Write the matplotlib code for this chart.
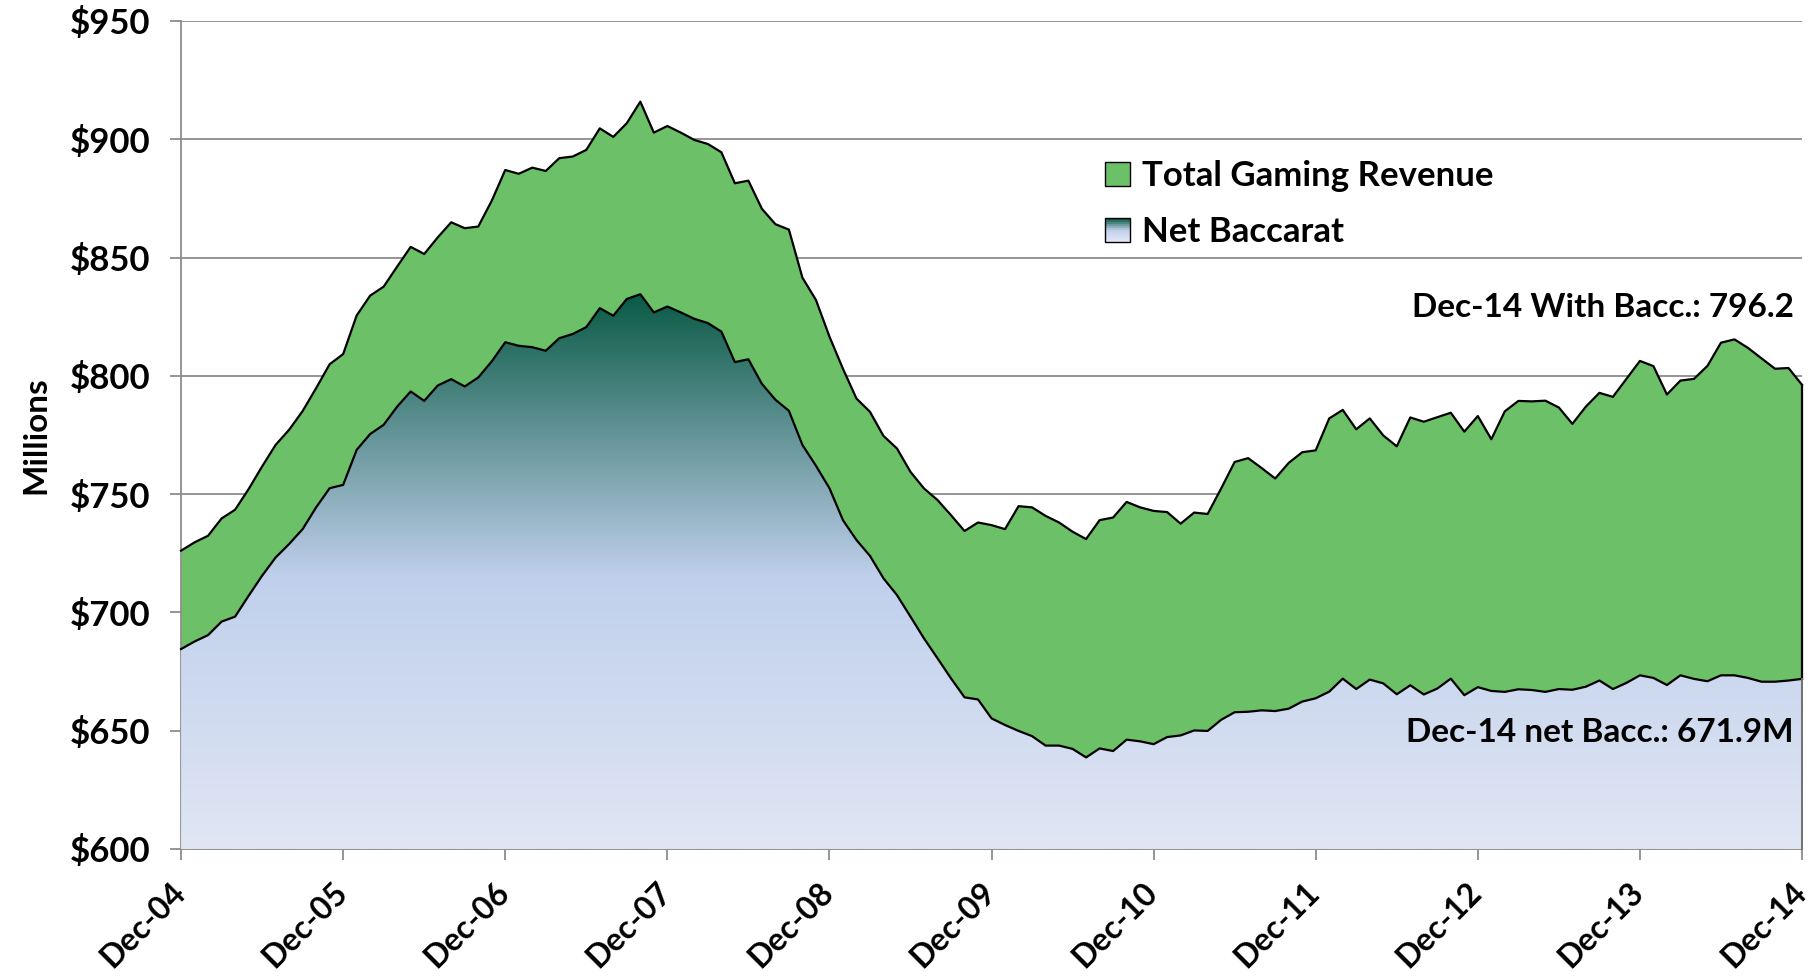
import numpy as np
import matplotlib
matplotlib.use('Agg')
import matplotlib.pyplot as plt
from matplotlib.colors import LinearSegmentedColormap
from matplotlib.patches import Rectangle, Patch
from matplotlib.legend_handler import HandlerBase

plt.rcParams['font.family'] = ['Lato', 'DejaVu Sans']
plt.rcParams['font.weight'] = 'bold'

# monthly data, Dec-04 .. Dec-14 ($ millions)
tick_labels = ['Dec-04', 'Dec-05', 'Dec-06', 'Dec-07', 'Dec-08', 'Dec-09',
               'Dec-10', 'Dec-11', 'Dec-12', 'Dec-13', 'Dec-14']
y_ticks = [600, 650, 700, 750, 800, 850, 900, 950]

total_rev = [726.1, 729.6, 732.4, 739.7, 743.4, 752.1, 761.7, 770.8, 777.2, 785.1,
             794.8, 804.9, 809.2, 825.5, 833.9, 837.7, 846.2, 854.5, 851.5, 858.5,
             864.9, 862.4, 863.1, 874.0, 887.0, 885.4, 888.0, 886.6, 892.0, 892.7,
             895.5, 904.6, 901.0, 906.8, 915.9, 902.8, 905.6, 902.8, 899.7, 898.0,
             894.5, 881.4, 882.5, 870.6, 864.1, 861.8, 841.5, 832.1, 816.6, 803.0,
             790.4, 784.8, 774.6, 769.3, 759.4, 752.4, 747.5, 741.1, 734.4, 738.0,
             736.9, 735.2, 744.9, 744.4, 740.8, 738.0, 734.1, 731.0, 739.0, 740.1,
             746.7, 744.4, 742.9, 742.4, 737.5, 742.2, 741.6, 752.4, 763.6, 765.2,
             761.0, 756.6, 763.2, 767.7, 768.5, 782.0, 785.6, 777.4, 782.0, 774.8,
             770.2, 782.4, 780.6, 782.5, 784.4, 776.4, 783.0, 773.2, 785.0, 789.4,
             789.2, 789.5, 786.6, 779.7, 787.0, 792.8, 791.1, 798.7, 806.3, 804.1,
             792.1, 798.0, 798.7, 804.2, 814.0, 815.4, 811.8, 807.4, 803.0, 803.3,
             796.2]

net_bacc = [684.5, 687.7, 690.4, 696.1, 698.2, 707.0, 715.5, 723.2, 728.9, 735.2,
            744.4, 752.5, 753.9, 768.7, 775.4, 779.3, 787.0, 793.4, 789.4, 795.9,
            798.6, 795.5, 799.3, 806.1, 814.2, 812.7, 812.1, 810.6, 815.9, 817.7,
            820.6, 828.6, 825.4, 832.5, 834.5, 826.8, 829.3, 826.8, 824.1, 822.3,
            818.7, 805.8, 807.0, 796.6, 789.9, 785.2, 770.8, 762.0, 752.5, 739.0,
            730.6, 723.9, 714.4, 707.3, 698.2, 689.0, 680.6, 672.1, 664.1, 663.2,
            655.2, 652.4, 649.9, 647.7, 643.7, 643.7, 642.3, 638.7, 642.5, 641.4,
            646.2, 645.5, 644.3, 647.3, 648.0, 650.1, 649.9, 654.6, 657.8, 658.0,
            658.6, 658.3, 659.3, 662.3, 663.7, 666.5, 672.0, 667.6, 671.6, 670.0,
            665.4, 669.2, 665.3, 667.8, 672.0, 665.0, 668.4, 666.8, 666.4, 667.5,
            667.2, 666.4, 667.6, 667.3, 668.6, 671.2, 667.6, 670.2, 673.4, 672.3,
            669.3, 673.4, 671.9, 670.9, 673.4, 673.4, 672.3, 670.7, 670.7, 671.2,
            671.9]

months = np.arange(len(total_rev))
tick_pos = months[::12]

green = '#6cc068'
grid_c = '#8c8c8c'
bacc_cmap = LinearSegmentedColormap.from_list(
    'bacc', [(0.0, '#e0e6f4'), (0.49, '#c0d0ec'), (1.0, '#0a5a45')])


class GradHandler(HandlerBase):
    def create_artists(self, legend, orig_handle, xdescent, ydescent,
                       width, height, fontsize, trans):
        arts = []
        n = 12
        for i in range(n):
            r = Rectangle((-xdescent, -ydescent + height * i / n), width, height / n,
                          facecolor=bacc_cmap(i / (n - 1)), edgecolor='none',
                          transform=trans)
            arts.append(r)
        arts.append(Rectangle((-xdescent, -ydescent), width, height, facecolor='none',
                              edgecolor='black', lw=1.0, transform=trans))
        return arts


fig = plt.figure(figsize=(18.16, 9.8), dpi=100)
ax = fig.add_axes([0.0997, 0.1337, 0.8926, 0.8449])

# total gaming revenue area
ax.fill_between(months, 600, total_rev, color=green, lw=0, zorder=2)
ax.plot(months, total_rev, color='black', lw=1.6, zorder=5, clip_on=False)

# net baccarat area with vertical gradient
poly = ax.fill_between(months, 600, net_bacc, facecolor='none', lw=0, zorder=3)
grad = np.linspace(0, 1, 256).reshape(-1, 1)
img = ax.imshow(grad, cmap=bacc_cmap, origin='lower', aspect='auto',
                extent=[0, 120, 600, max(net_bacc)], zorder=3, interpolation='bilinear')
img.set_clip_path(poly.get_paths()[0], transform=ax.transData)
ax.plot(months, net_bacc, color='black', lw=1.6, zorder=5, clip_on=False)

# right edge of the areas
ax.plot([months[-1], months[-1]], [net_bacc[-1], total_rev[-1]], color='black',
        lw=1.6, zorder=5, clip_on=False)
ax.plot([months[-1], months[-1]], [600, net_bacc[-1]], color='#707070',
        lw=1.4, zorder=5, clip_on=False)

ax.set_xlim(0, 120)
ax.set_ylim(600, 950)
ax.set_yticks(y_ticks)
ax.set_yticklabels(['$%d' % v for v in y_ticks], fontsize=25)
ax.set_xticks(tick_pos)
ax.set_xticklabels([])
for xp, lab in zip(tick_pos, tick_labels):
    ax.annotate(lab, xy=(xp, 600), xytext=(-8, -20), textcoords='offset points',
                rotation=45, ha='right', va='top', rotation_mode='anchor',
                fontsize=23, fontweight='bold', annotation_clip=False)
ax.grid(axis='y', color=grid_c, lw=1.3)
ax.set_axisbelow(True)

for s in ['top', 'right']:
    ax.spines[s].set_visible(False)
for s in ['left', 'bottom']:
    ax.spines[s].set_color(grid_c)
    ax.spines[s].set_linewidth(1.3)
ax.tick_params(axis='y', length=8, width=1.3, color=grid_c, pad=14)
ax.tick_params(axis='x', length=8, width=1.3, color=grid_c)

ax.set_ylabel('Millions', fontsize=24, fontweight='bold', labelpad=14)

ax.text(119.4, 828.7, 'Dec-14 With Bacc.: 796.2', ha='right', va='center',
        fontsize=24, fontweight='bold', zorder=6)
ax.text(119.4, 649.2, 'Dec-14 net Bacc.: 671.9M', ha='right', va='center',
        fontsize=24, fontweight='bold', zorder=6)

h1 = Patch(facecolor=green, edgecolor='black', lw=1.0)
h2 = Patch(facecolor='none')
ax.legend([h1, h2], ['Total Gaming Revenue', 'Net Baccarat'],
          handler_map={h2: GradHandler()},
          loc='upper left', bbox_to_anchor=(0.551, 0.870), frameon=False,
          fontsize=25, handlelength=0.7, handleheight=0.7, handletextpad=0.35,
          labelspacing=0.7)

fig.savefig('out.png', dpi=100)
